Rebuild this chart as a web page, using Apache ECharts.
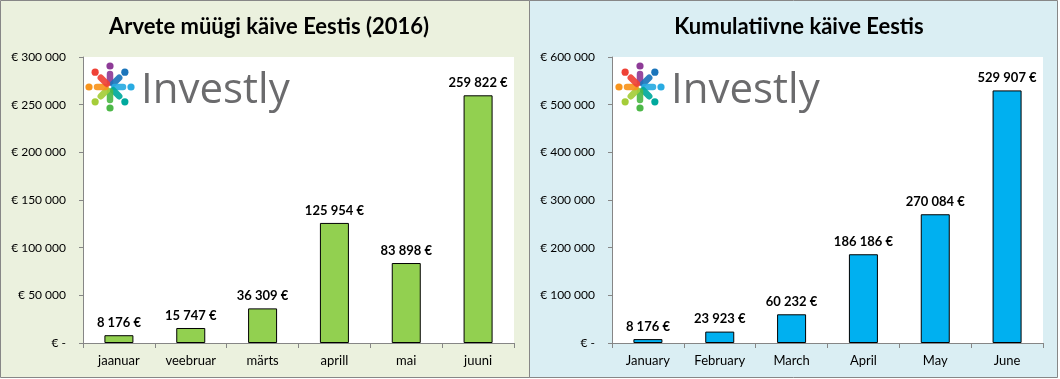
<!DOCTYPE html>
<html>
<head>
<meta charset="utf-8">
<script src="https://cdn.jsdelivr.net/npm/echarts@6/dist/echarts.min.js"></script>
<style>
html,body{margin:0;padding:0;background:#fff;}
#c{width:1060px;height:379px;}
</style>
</head>
<body>
<div id="c"></div>
<script>
const monthsEt = ['jaanuar', 'veebruar', 'märts', 'aprill', 'mai', 'juuni'];
const monthsEn = ['January', 'February', 'March', 'April', 'May', 'June'];
const monthlyTurnover = [8176, 15747, 36309, 125954, 83898, 259822];
const cumulativeTurnover = [8176, 23923, 60232, 186186, 270084, 529907];
const titleLeft = 'Arvete müügi käive Eestis (2016)';
const titleRight = 'Kumulatiivne käive Eestis';

const FONT = 'Lato';
function grp(v) { return String(Math.round(v)).replace(/\B(?=(\d{3})+(?!\d))/g, ' '); }
function yFmt(v) { return v === 0 ? '€ -' : '€ ' + grp(v); }

function logo(x0, y0) {
  const cols = ['#8e3b97', '#1b75bb', '#29abe2', '#00a99d', '#4db848', '#a5cd39', '#f7941d', '#ef4136'];
  const els = [];
  for (let i = 0; i < 8; i++) {
    const a = -Math.PI / 2 + i * Math.PI / 4;
    const R = 21;
    els.push({ type: 'circle', shape: { cx: x0 + R * Math.cos(a), cy: y0 + R * Math.sin(a), r: 3.6 }, style: { fill: cols[i] } });
    els.push({ type: 'line', shape: { x1: x0 + 4.5 * Math.cos(a), y1: y0 + 4.5 * Math.sin(a), x2: x0 + 13 * Math.cos(a), y2: y0 + 13 * Math.sin(a) }, style: { stroke: cols[i], lineWidth: 6.5, lineCap: 'round', opacity: 0.92 } });
  }
  els.push({ type: 'text', style: { x: x0 + 31, y: y0 + 4, text: 'Investly', font: '400 42px "Open Sans", Lato, sans-serif', fill: '#6b6b6d', verticalAlign: 'middle' } });
  return els;
}

const chart = echarts.init(document.getElementById('c'), null, { renderer: 'canvas' });

function yAxis(idx, max, interval) {
  return {
    type: 'value', gridIndex: idx, min: 0, max: max, interval: interval,
    axisLine: { show: true, lineStyle: { color: '#868686', width: 1 } },
    axisTick: { show: true, length: 4, lineStyle: { color: '#868686' } },
    splitLine: { show: false },
    axisLabel: { formatter: yFmt, color: '#000', fontFamily: FONT, fontSize: 12, margin: 17 }
  };
}
function xAxis(idx, data) {
  return {
    type: 'category', gridIndex: idx, data: data,
    axisLine: { show: true, lineStyle: { color: '#868686', width: 1 } },
    axisTick: { show: true, length: 5, lineStyle: { color: '#868686' } },
    axisLabel: { color: '#000', fontFamily: FONT, fontSize: 13, margin: 11 }
  };
}
function barSeries(idx, data, color) {
  return {
    type: 'bar', xAxisIndex: idx, yAxisIndex: idx, data: data, barWidth: 29,
    itemStyle: { color: color, borderColor: '#000', borderWidth: 1 },
    label: { show: true, position: 'top', distance: 6, formatter: p => grp(p.value) + ' €', fontFamily: FONT, fontWeight: 'bold', fontSize: 13, color: '#000' },
    z: 3
  };
}

chart.setOption({
  animation: false,
  title: [
    { text: titleLeft, left: 264, top: 11, textAlign: 'center', textStyle: { fontFamily: FONT, fontWeight: 'bold', fontSize: 22, color: '#000' } },
    { text: titleRight, left: 794, top: 11, textAlign: 'center', textStyle: { fontFamily: FONT, fontWeight: 'bold', fontSize: 22, color: '#000' } }
  ],
  graphic: [
    { type: 'rect', z: -10, shape: { x: 0.5, y: 0.5, width: 529, height: 377 }, style: { fill: '#ebf1de', stroke: '#878787', lineWidth: 1 } },
    { type: 'rect', z: -10, shape: { x: 529.5, y: 0.5, width: 528, height: 377 }, style: { fill: '#daeef3', stroke: '#878787', lineWidth: 1 } },
    { type: 'group', z: 10, children: logo(110, 87) },
    { type: 'group', z: 10, children: logo(640, 87) }
  ],
  grid: [
    { left: 83, top: 57, width: 431, height: 286, show: true, backgroundColor: '#fff', borderWidth: 0 },
    { left: 612, top: 57, width: 431, height: 286, show: true, backgroundColor: '#fff', borderWidth: 0 }
  ],
  xAxis: [xAxis(0, monthsEt), xAxis(1, monthsEn)],
  yAxis: [yAxis(0, 300000, 50000), yAxis(1, 600000, 100000)],
  series: [barSeries(0, monthlyTurnover, '#92d050'), barSeries(1, cumulativeTurnover, '#00b0f0')]
});
</script>
</body>
</html>
